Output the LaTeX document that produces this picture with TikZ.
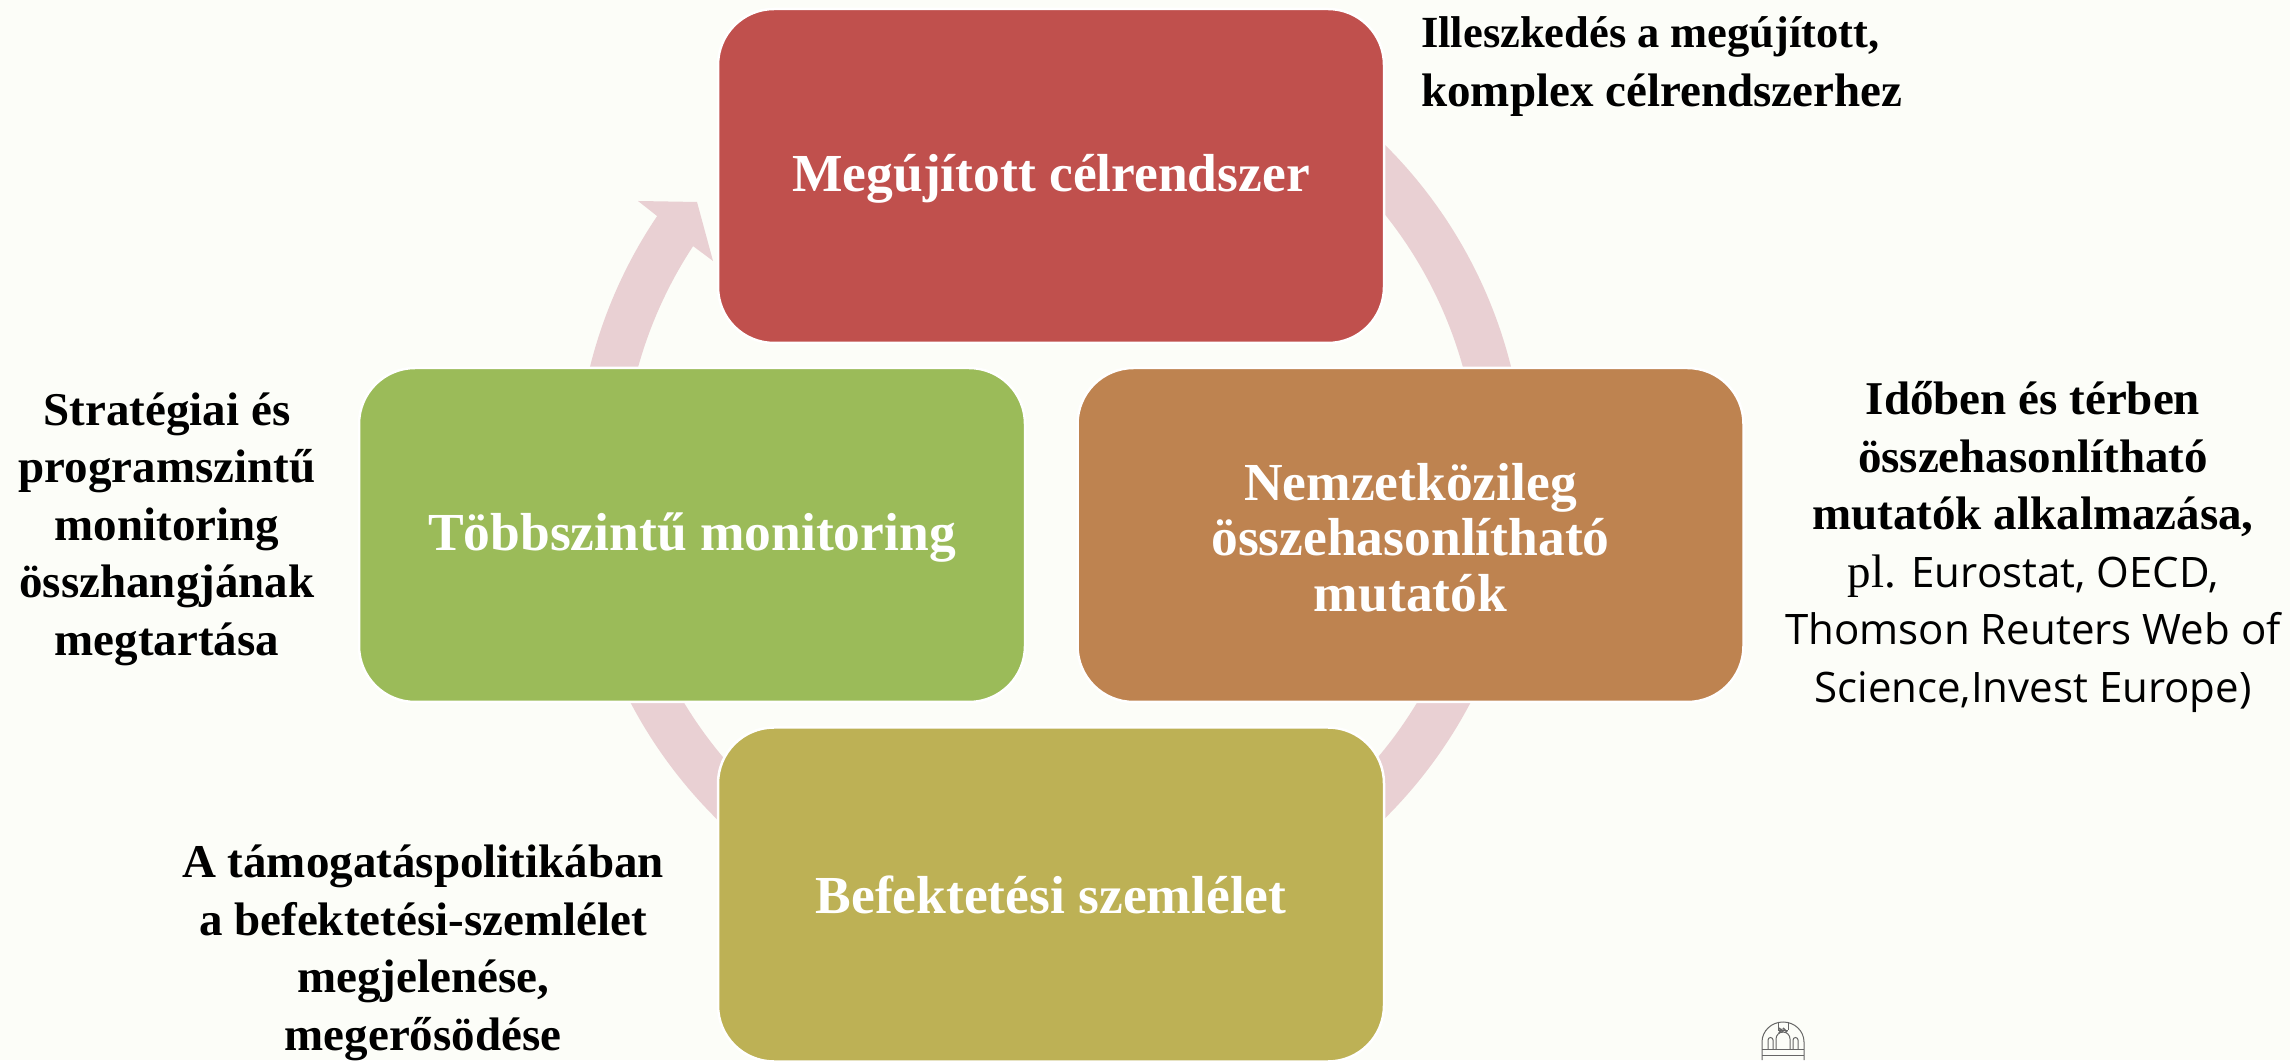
\documentclass[tikz,border=0pt]{standalone}
\usetikzlibrary{calc}
\usepackage{fontspec}
\setmainfont{Liberation Serif}
\newfontfamily\opensans{Open Sans}
\definecolor{bgc}{HTML}{FCFDF8}
\definecolor{ringc}{HTML}{E9D0D3}
\definecolor{redc}{HTML}{C0504D}
\definecolor{orangec}{HTML}{BE8350}
\definecolor{olivec}{HTML}{BDB155}
\definecolor{greenc}{HTML}{9BBB59}
\tikzset{
  x=1pt,y=1pt,
  bigbox/.style={draw=white,line width=2.5pt,rounded corners=56pt,minimum width=666pt,minimum height=334pt,inner sep=0pt,
     text=white,align=center,font=\bfseries\fontsize{53.5}{55.5}\selectfont},
  note/.style={inner sep=0pt,text=black,align=center,font=\bfseries\fontsize{47}{57.5}\selectfont},
  ringarc/.style={fill=ringc,draw=none},
}
\begin{document}
\begin{tikzpicture}
\useasboundingbox (0,0) rectangle (2290,1060);
\fill[bgc] (0,0) rectangle (2290,1060);
\coordinate (ring) at (1050.5,578.4);
% right arc
\fill[ringarc] ($(ring)+(50:474.6)$) arc[start angle=50,end angle=10,radius=474.6]
   -- ($(ring)+(10:428)$) arc[start angle=10,end angle=50,radius=428] -- cycle;
% lower right arc
\fill[ringarc] ($(ring)+(335:474.6)$) arc[start angle=335,end angle=305,radius=474.6]
   -- ($(ring)+(305:428)$) arc[start angle=305,end angle=335,radius=428] -- cycle;
% lower left arc
\fill[ringarc] ($(ring)+(205:474.6)$) arc[start angle=205,end angle=235,radius=474.6]
   -- ($(ring)+(235:428)$) arc[start angle=235,end angle=205,radius=428] -- cycle;
% upper left arrow
\fill[ringarc] ($(ring)+(170:474.6)$) arc[start angle=170,end angle=145.98,radius=474.6]
   -- (638,859) -- (697,858) -- (713,799) -- ($(ring)+(146.62:428)$)
   arc[start angle=146.62,end angle=170,radius=428] -- cycle;
\node[bigbox,fill=redc] (top) at (1051,884) {\raisebox{0pt}[42pt][10pt]{Megújított célrendszer}};
\node[bigbox,fill=orangec] (right) at (1410.5,525) {\raisebox{0pt}[102pt][70pt]{\begin{tabular}{@{}c@{}}Nemzetközileg\\összehasonlítható\\mutatók\end{tabular}}};
\node[bigbox,fill=olivec] (bottom) at (1051,165.5) {Befektetési szemlélet};
\node[bigbox,fill=greenc] (left) at (692,525) {\raisebox{0pt}[42pt][10pt]{Többszintű monitoring}};
\node[note,align=left,anchor=west] (ntop) at (1421,993) {{\fontsize{44.5}{59}\selectfont Illeszkedés a megújított,}\\[1.5pt]komplex célrendszerhez};
\node[note] (nleft) at (167,531) {Stratégiai és\\programszintű\\monitoring\\összhangjának\\megtartása};
\node[note] (nbottom) at (423,107) {A támogatáspolitikában\\a befektetési-szemlélet\\megjelenése,\\megerősödése};
\node[note] (nright) at (2033,513) {Időben és térben\\összehasonlítható\\mutatók alkalmazása,\\{\mdseries pl. {\opensans\fontsize{42}{57.5}\selectfont Eurostat, OECD,}}\\{\mdseries\opensans\fontsize{42}{57.5}\selectfont Thomson Reuters Web of}\\{\mdseries\opensans\fontsize{42}{57.5}\selectfont Science,Invest Europe)}};
% dome emblem
\begin{scope}[draw=black!60,line width=1pt]
\draw (1762,0) -- (1762,18) arc[start angle=180,end angle=0,x radius=21,y radius=20] -- (1804,0);
\draw (1762,11) -- (1804,11);
\draw (1762,5) -- (1804,5);
\draw (1776,11) -- ++(0,10) arc[start angle=180,end angle=0,radius=7] -- ++(0,-10);
\draw (1768,11) -- ++(0,9) arc[start angle=180,end angle=0,radius=2.5] -- ++(0,-9);
\draw (1793,11) -- ++(0,9) arc[start angle=180,end angle=0,radius=2.5] -- ++(0,-9);
\draw (1778,38) -- (1778,30) (1788,38) -- (1788,30);
\draw (1778,30) -- (1788,30);
\draw[line width=1.5pt] (1779,32) -- (1783,28) (1783,32) -- (1787,28) (1782,31) -- (1779,27);
\end{scope}
\end{tikzpicture}
\end{document}
